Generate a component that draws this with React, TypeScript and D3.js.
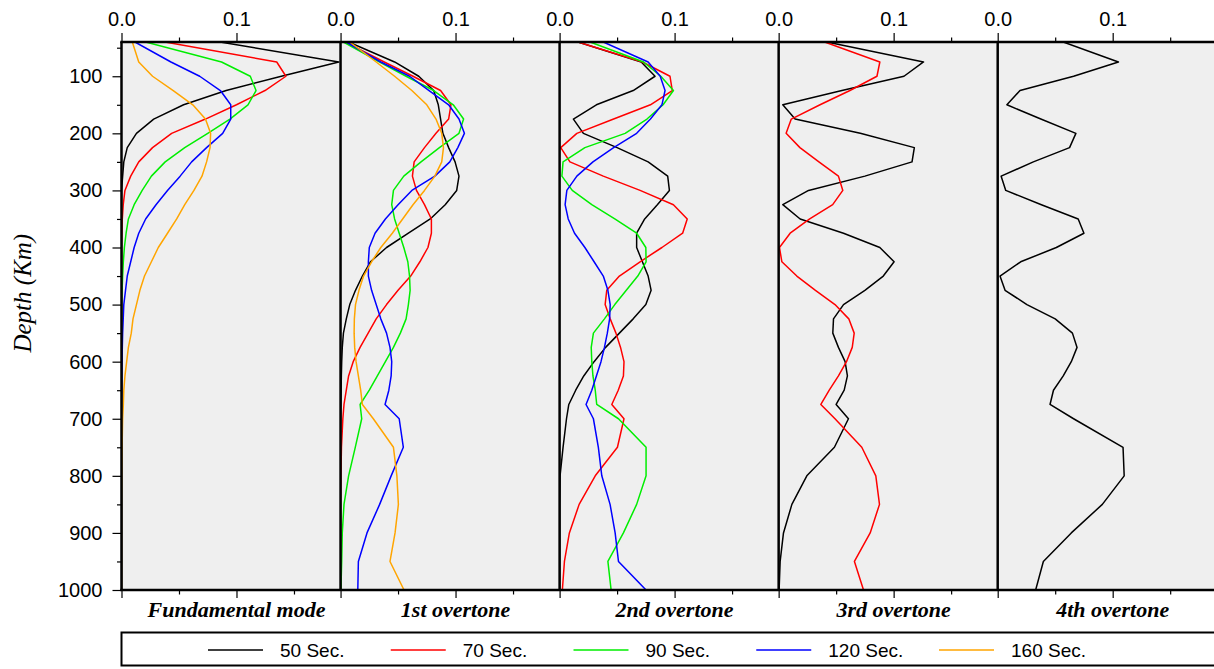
import React, { useEffect, useRef } from "react";
import * as d3 from "d3";

// depth samples (km) shared by every curve
const depths = [40, 75, 100, 125, 150, 175, 200, 225, 250, 275, 300, 325, 350, 375, 400, 425, 450, 475, 500, 525, 550, 575, 600, 625, 650, 675, 700, 750, 800, 850, 900, 950, 1000];

const periods = ["50 Sec.", "70 Sec.", "90 Sec.", "120 Sec.", "160 Sec."];
const periodColors = ["#000000", "#ff0000", "#00ee00", "#0000ff", "#ffa500"];
const panelNames = ["Fundamental mode", "1st overtone", "2nd overtone", "3rd overtone", "4th overtone"];
const xTicks = [0, 0.1];
const xMinorTicks = [0.05, 0.15];
const yTicks = [100, 200, 300, 400, 500, 600, 700, 800, 900, 1000];
const yMinorTicks = [50, 150, 250, 350, 450, 550, 650, 750, 850, 950];

// fundamental mode
const fund50 = [0.0857, 0.189, 0.139, 0.091, 0.054, 0.028, 0.013, 0.005, 0.002, 0.001, 0, 0, 0, 0, 0, 0, 0, 0, 0, 0, 0, 0, 0, 0, 0, 0, 0, 0, 0, 0, 0, 0, 0];
const fund70 = [0.0378, 0.135, 0.143, 0.1248, 0.1, 0.073, 0.0436, 0.027, 0.015, 0.008, 0.003, 0.0015, 0.0007, 0.0003, 0, 0, 0, 0, 0, 0, 0, 0, 0, 0, 0, 0, 0, 0, 0, 0, 0, 0, 0];
const fund90 = [0.021, 0.087, 0.112, 0.117, 0.11, 0.0943, 0.075, 0.055, 0.038, 0.026, 0.018, 0.011, 0.006, 0.004, 0.0025, 0.0016, 0.001, 0.0005, 0, 0, 0, 0, 0, 0, 0, 0, 0, 0, 0, 0, 0, 0, 0];
const fund120 = [0.0117, 0.043, 0.068, 0.086, 0.095, 0.095, 0.088, 0.074, 0.061, 0.051, 0.04, 0.03, 0.021, 0.015, 0.011, 0.008, 0.005, 0.0035, 0.002, 0.0015, 0.001, 0.0007, 0.0005, 0.0003, 0.0002, 0, 0, 0, 0, 0, 0, 0, 0];
const fund160 = [0.0094, 0.015, 0.027, 0.045, 0.062, 0.073, 0.0775, 0.077, 0.074, 0.07, 0.063, 0.055, 0.048, 0.04, 0.032, 0.026, 0.02, 0.016, 0.013, 0.01, 0.0085, 0.006, 0.0045, 0.003, 0.002, 0.0016, 0.001, 0.0005, 0.0002, 0, 0, 0, 0];

// 1st overtone
const ot1_50 = [0.007, 0.047, 0.068, 0.081, 0.085, 0.087, 0.089, 0.094, 0.0996, 0.103, 0.101, 0.091, 0.078, 0.059, 0.04, 0.026, 0.019, 0.013, 0.008, 0.005, 0.0025, 0.0015, 0.001, 0.0007, 0.0005, 0.0003, 0.0002, 0, 0, 0, 0, 0, 0];
const ot1_70 = [0.004, 0.038, 0.063, 0.087, 0.096, 0.094, 0.083, 0.073, 0.064, 0.0625, 0.066, 0.073, 0.079, 0.079, 0.076, 0.069, 0.061, 0.05, 0.04, 0.031, 0.024, 0.017, 0.011, 0.007, 0.005, 0.003, 0.002, 0.0008, 0.0003, 0, 0, 0, 0];
const ot1_90 = [0.0025, 0.034, 0.057, 0.081, 0.098, 0.107, 0.103, 0.086, 0.07, 0.055, 0.046, 0.0445, 0.047, 0.051, 0.055, 0.0585, 0.06, 0.0605, 0.059, 0.057, 0.052, 0.046, 0.039, 0.032, 0.025, 0.017, 0.0184, 0.0128, 0.007, 0.003, 0.0015, 0.001, 0.0003];
const ot1_120 = [0.005, 0.035, 0.06, 0.077, 0.094, 0.103, 0.1077, 0.102, 0.095, 0.082, 0.062, 0.05, 0.039, 0.03, 0.025, 0.0242, 0.0242, 0.027, 0.031, 0.035, 0.04, 0.043, 0.0445, 0.044, 0.042, 0.0387, 0.051, 0.0546, 0.044, 0.034, 0.023, 0.0155, 0.015];
const ot1_160 = [0.008, 0.031, 0.047, 0.062, 0.075, 0.083, 0.088, 0.0895, 0.088, 0.082, 0.073, 0.063, 0.054, 0.045, 0.035, 0.027, 0.02, 0.016, 0.013, 0.012, 0.0118, 0.0123, 0.0135, 0.0155, 0.0175, 0.019, 0.0285, 0.046, 0.049, 0.0503, 0.0474, 0.043, 0.0552];

// 2nd overtone
const ot2_50 = [0.016, 0.071, 0.083, 0.064, 0.032, 0.012, 0.0207, 0.05, 0.077, 0.094, 0.0955, 0.085, 0.074, 0.067, 0.067, 0.072, 0.077, 0.0796, 0.075, 0.064, 0.052, 0.04, 0.03, 0.021, 0.014, 0.008, 0.006, 0.003, 0.0004, 0, 0, 0, 0];
const ot2_70 = [0.016, 0.072, 0.096, 0.098, 0.079, 0.047, 0.015, 0.001, 0.009, 0.038, 0.07, 0.099, 0.111, 0.107, 0.089, 0.07, 0.052, 0.041, 0.0396, 0.044, 0.049, 0.053, 0.056, 0.0555, 0.051, 0.0454, 0.056, 0.0503, 0.031, 0.017, 0.0085, 0.0042, 0.0024];
const ot2_90 = [0.0265, 0.073, 0.088, 0.099, 0.09, 0.076, 0.057, 0.022, 0.003, 0.002, 0.011, 0.028, 0.048, 0.067, 0.075, 0.0752, 0.068, 0.058, 0.048, 0.039, 0.0294, 0.0275, 0.028, 0.029, 0.031, 0.0323, 0.0512, 0.0752, 0.0752, 0.067, 0.0555, 0.042, 0.0448];
const ot2_120 = [0.038, 0.077, 0.0875, 0.0917, 0.089, 0.079, 0.067, 0.047, 0.029, 0.015, 0.0063, 0.0048, 0.0075, 0.013, 0.022, 0.03, 0.038, 0.042, 0.044, 0.0435, 0.0415, 0.039, 0.036, 0.032, 0.028, 0.023, 0.0294, 0.0337, 0.0367, 0.0439, 0.0483, 0.0512, 0.0752];

// 3rd overtone
const ot3_50 = [0.042, 0.126, 0.109, 0.055, 0.0036, 0.0143, 0.071, 0.118, 0.116, 0.075, 0.026, 0.0036, 0.0187, 0.0564, 0.088, 0.1004, 0.091, 0.075, 0.0564, 0.0477, 0.0471, 0.052, 0.0578, 0.0598, 0.057, 0.05, 0.0607, 0.0485, 0.0245, 0.0115, 0.0042, 0.0013, 0.0004];
const ot3_70 = [0.04, 0.088, 0.0855, 0.062, 0.036, 0.011, 0.0065, 0.0185, 0.035, 0.052, 0.0558, 0.047, 0.027, 0.01, 0.0007, 0.0028, 0.0158, 0.032, 0.049, 0.061, 0.0657, 0.064, 0.059, 0.052, 0.044, 0.0367, 0.049, 0.0723, 0.0845, 0.0877, 0.0796, 0.0659, 0.0738];

// 4th overtone
const ot4_50 = [0.057, 0.105, 0.066, 0.0194, 0.008, 0.0375, 0.068, 0.0625, 0.031, 0.003, 0.007, 0.038, 0.07, 0.075, 0.051, 0.02, 0.002, 0.0064, 0.0254, 0.05, 0.065, 0.069, 0.064, 0.057, 0.0485, 0.0455, 0.066, 0.109, 0.11, 0.091, 0.064, 0.0397, 0.033];

// each panel lists its curves in period order (null = not plotted)
const panelSeries = [
  [fund50, fund70, fund90, fund120, fund160],
  [ot1_50, ot1_70, ot1_90, ot1_120, ot1_160],
  [ot2_50, ot2_70, ot2_90, ot2_120, null],
  [ot3_50, ot3_70, null, null, null],
  [ot4_50, null, null, null, null],
];

export default function App() {
  const svgRef = useRef(null);

  useEffect(() => {
    if (!svgRef.current) return;
    const svg = d3.select(svgRef.current);
    svg.selectAll("*").remove();

    const left = 121.5;
    const top = 42;
    const bottom = 590;
    const panelW = 219.05;
    const xMax = 0.1905;
    const sans = "'Liberation Sans', Arial, Helvetica, sans-serif";
    const serif = "'Liberation Serif', 'Times New Roman', serif";

    const y = d3.scaleLinear().domain([40, 1000]).range([top, bottom]);

    // grey plot background
    svg.append("rect")
      .attr("x", left)
      .attr("y", top)
      .attr("width", 1214 - left)
      .attr("height", bottom - top)
      .attr("fill", "#efefef");

    const defs = svg.append("defs");

    panelSeries.forEach((series, p) => {
      const x0 = left + p * panelW;
      const x = d3.scaleLinear().domain([0, xMax]).range([x0, x0 + panelW]);

      defs.append("clipPath")
        .attr("id", `clip${p}`)
        .append("rect")
        .attr("x", x0)
        .attr("y", top)
        .attr("width", panelW)
        .attr("height", bottom - top);

      const line = d3.line<number>()
        .x((d) => x(d))
        .y((d, i) => y(depths[i]));

      const g = svg.append("g").attr("clip-path", `url(#clip${p})`);
      series.forEach((vals, s) => {
        if (!vals) return;
        g.append("path")
          .datum(vals)
          .attr("fill", "none")
          .attr("stroke", periodColors[s])
          .attr("stroke-width", 1.5)
          .attr("stroke-linejoin", "round")
          .attr("d", line);
      });

      // top axis ticks and labels
      const topAxis = d3.axisTop(x).tickValues(xTicks).tickSize(9).tickFormat(d3.format(".1f"));
      const ta = svg.append("g").attr("transform", `translate(0,${top})`).call(topAxis);
      ta.select(".domain").remove();
      ta.selectAll("line").attr("stroke", "#000").attr("stroke-width", 1.2);
      ta.selectAll("text")
        .attr("font-family", sans)
        .attr("font-size", 20)
        .attr("fill", "#000")
        .attr("y", -16);

      const topMinor = d3.axisTop(x).tickValues(xMinorTicks).tickSize(4.5).tickFormat(() => "");
      const tm = svg.append("g").attr("transform", `translate(0,${top})`).call(topMinor);
      tm.select(".domain").remove();
      tm.selectAll("line").attr("stroke", "#000").attr("stroke-width", 1.2);

      // bottom axis ticks (no labels)
      const botAxis = d3.axisBottom(x).tickValues(xTicks).tickSize(8).tickFormat(() => "");
      const ba = svg.append("g").attr("transform", `translate(0,${bottom})`).call(botAxis);
      ba.select(".domain").remove();
      ba.selectAll("line").attr("stroke", "#000").attr("stroke-width", 1.2);
      const botMinor = d3.axisBottom(x).tickValues(xMinorTicks).tickSize(4.5).tickFormat(() => "");
      const bm = svg.append("g").attr("transform", `translate(0,${bottom})`).call(botMinor);
      bm.select(".domain").remove();
      bm.selectAll("line").attr("stroke", "#000").attr("stroke-width", 1.2);

      // panel title under the plot
      svg.append("text")
        .attr("x", x(0.1))
        .attr("y", 617)
        .attr("text-anchor", "middle")
        .attr("font-family", serif)
        .attr("font-style", "italic")
        .attr("font-weight", "bold")
        .attr("font-size", 22)
        .attr("fill", "#000")
        .text(panelNames[p]);

      // panel left border
      svg.append("line")
        .attr("x1", x0)
        .attr("x2", x0)
        .attr("y1", top)
        .attr("y2", bottom)
        .attr("stroke", "#000")
        .attr("stroke-width", 2.5);
    });

    // frame top / bottom
    [top, bottom].forEach((yy) => {
      svg.append("line")
        .attr("x1", left - 1.25)
        .attr("x2", 1214)
        .attr("y1", yy)
        .attr("y2", yy)
        .attr("stroke", "#000")
        .attr("stroke-width", 2.5);
    });

    // left depth axis
    const leftAxis = d3.axisLeft(y).tickValues(yTicks).tickSize(9).tickPadding(10).tickFormat(d3.format("d"));
    const la = svg.append("g").attr("transform", `translate(${left},0)`).call(leftAxis);
    la.select(".domain").remove();
    la.selectAll("line").attr("stroke", "#000").attr("stroke-width", 1.2);
    la.selectAll("text").attr("font-family", sans).attr("font-size", 20).attr("fill", "#000");
    const leftMinor = d3.axisLeft(y).tickValues(yMinorTicks).tickSize(4.5).tickFormat(() => "");
    const lm = svg.append("g").attr("transform", `translate(${left},0)`).call(leftMinor);
    lm.select(".domain").remove();
    lm.selectAll("line").attr("stroke", "#000").attr("stroke-width", 1.2);

    svg.append("text")
      .attr("transform", `translate(31,${y(480)}) rotate(-90)`)
      .attr("text-anchor", "middle")
      .attr("font-family", serif)
      .attr("font-style", "italic")
      .attr("font-size", 25)
      .attr("fill", "#000")
      .text("Depth (Km)");

    // legend
    svg.append("rect")
      .attr("x", left)
      .attr("y", 632.5)
      .attr("width", 1214 - left + 10)
      .attr("height", 33)
      .attr("fill", "#fff")
      .attr("stroke", "#000")
      .attr("stroke-width", 2);

    const lx = d3.scalePoint<string>().domain(periods).range([208, 939]);
    periods.forEach((name, i) => {
      const gx = lx(name) as number;
      svg.append("line")
        .attr("x1", gx)
        .attr("x2", gx + 55)
        .attr("y1", 650)
        .attr("y2", 650)
        .attr("stroke", periodColors[i])
        .attr("stroke-width", 1.5);
      svg.append("text")
        .attr("x", gx + 72)
        .attr("y", 657)
        .attr("font-family", sans)
        .attr("font-size", 19)
        .attr("fill", "#000")
        .text(name);
    });
  }, []);

  return (
    <div style={{ position: "absolute", left: 0, top: 0, width: 1214, height: 669, overflow: "hidden", background: "#fff" }}>
      <svg ref={svgRef} width={1214} height={669} style={{ display: "block" }} />
    </div>
  );
}
